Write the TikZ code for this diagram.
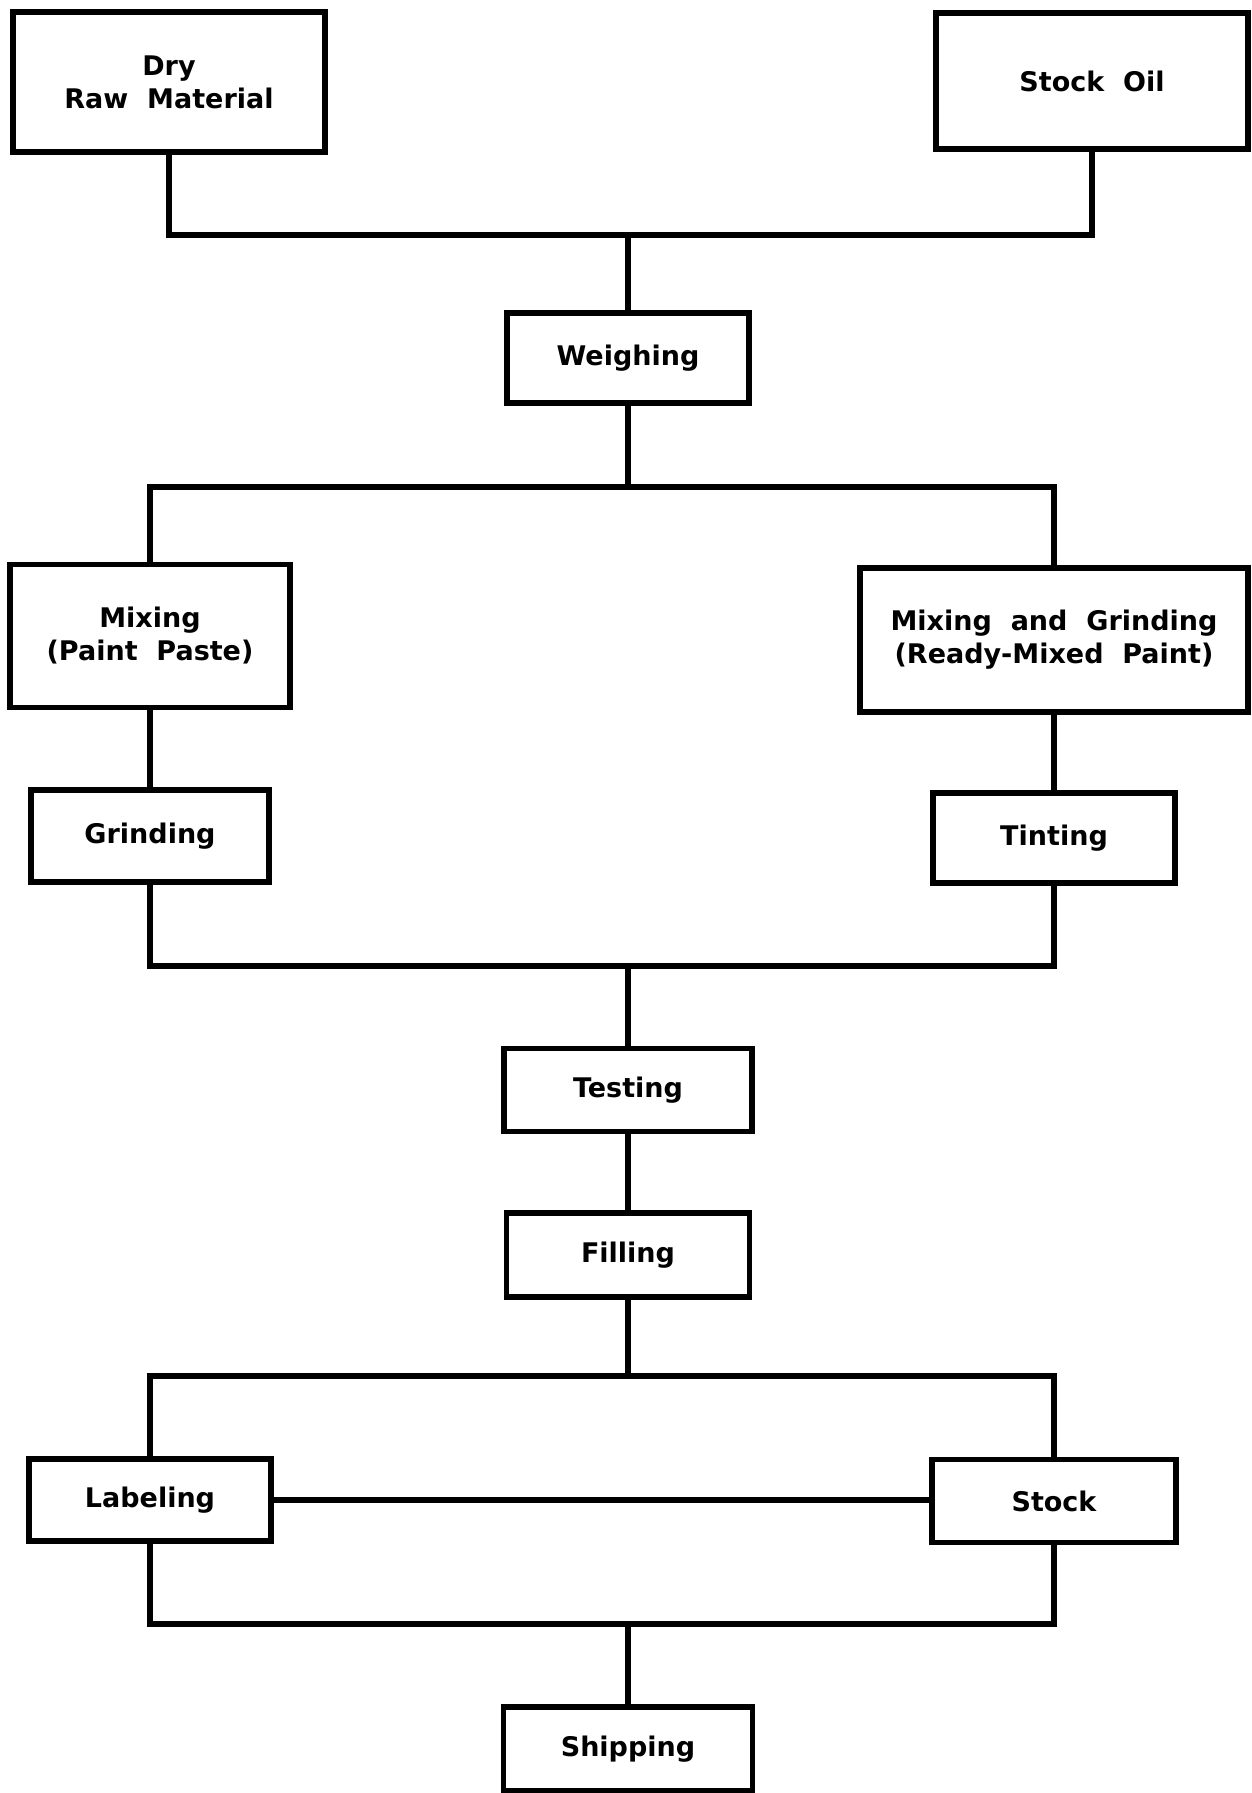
\documentclass[tikz,border=0pt]{standalone}
\usepackage{fontspec}
\setmainfont{DejaVu Sans}
\begin{document}
\begin{tikzpicture}[x=1pt,y=-1pt,
  procbox/.style={draw, line width=5.5pt, inner sep=0pt, outer sep=0pt, align=center,
    font={\fontsize{27}{33}\selectfont\bfseries}},
  conn/.style={line width=5.5pt, line join=miter}]
\useasboundingbox (0,0) rectangle (1251,1793);
\node[procbox, minimum width=312, minimum height=140] (dry) at (169,82) {Dry\\Raw\ \ Material};
\node[procbox, minimum width=312, minimum height=136] (oil) at (1092,81) {Stock\ \ Oil};
\node[procbox, minimum width=242, minimum height=90] (weigh) at (628,358) {Weighing};
\node[procbox, minimum width=280, minimum height=143] (mixp) at (150,636) {Mixing\\(Paint\ \ Paste)};
\node[procbox, minimum width=388, minimum height=144] (mixg) at (1054,640) {Mixing\ \ and\ \ Grinding\\(Ready-Mixed\ \ Paint)};
\node[procbox, minimum width=238, minimum height=92] (grind) at (150,836) {Grinding};
\node[procbox, minimum width=242, minimum height=90] (tint) at (1054,838) {Tinting};
\node[procbox, minimum width=248, minimum height=83] (test) at (628,1090) {Testing};
\node[procbox, minimum width=243, minimum height=84] (fill) at (628,1255) {Filling};
\node[procbox, minimum width=242, minimum height=82] (label) at (150,1500) {Labeling};
\node[procbox, minimum width=244, minimum height=83] (stock) at (1054,1501) {Stock};
\node[procbox, minimum width=249, minimum height=84] (ship) at (628,1749) {Shipping};
\coordinate (j1) at (628,235);
\coordinate (j2) at (628,487);
\coordinate (j3) at (628,966);
\coordinate (j4) at (628,1376);
\coordinate (j5) at (628,1624);
\draw[conn] (dry.south) |- (j1) -| (oil.south);
\draw[conn] (j1) -- (weigh.north);
\draw[conn] (weigh.south) -- (j2);
\draw[conn] (mixp.north) |- (j2) -| (mixg.north);
\draw[conn] (mixp.south) -- (grind.north);
\draw[conn] (mixg.south) -- (tint.north);
\draw[conn] (grind.south) |- (j3) -| (tint.south);
\draw[conn] (j3) -- (test.north);
\draw[conn] (test.south) -- (fill.north);
\draw[conn] (fill.south) -- (j4);
\draw[conn] (label.north) |- (j4) -| (stock.north);
\draw[conn] (label.east) -- (label.east -| stock.west);
\draw[conn] (label.south) |- (j5) -| (stock.south);
\draw[conn] (j5) -- (ship.north);
\end{tikzpicture}
\end{document}
